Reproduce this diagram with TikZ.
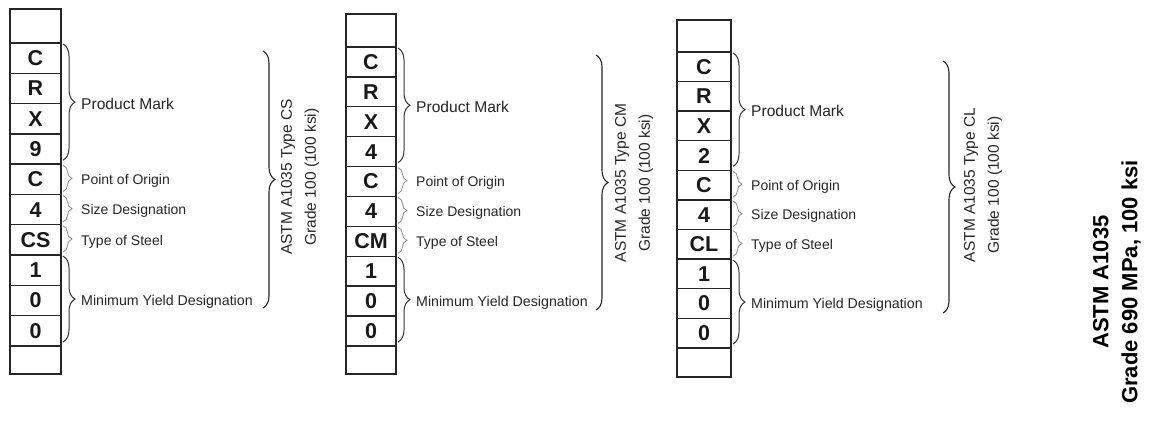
\documentclass[tikz,border=0pt]{standalone}
\usepackage{fontspec}
\setmainfont{Liberation Sans}
\usetikzlibrary{calc,decorations.pathreplacing}
\tikzset{
  cellbox/.style={draw=black!85, line width=1.4pt, inner sep=0pt, outer sep=0pt,
    font=\fontsize{21.5}{21.5}\selectfont\bfseries, text=black!90, anchor=north west},
  bigbrace/.style={decorate, decoration={brace, amplitude=12pt}, line width=1.1pt, draw=black!85},
  midbrace/.style={decorate, decoration={brace, amplitude=12pt}, line width=1pt, draw=black!80},
  smallbrace/.style={decorate, decoration={brace, amplitude=9pt}, line width=0.8pt, draw=black!45},
  lbl/.style={anchor=west, inner sep=0pt, text depth=0pt, font=\fontsize{14.2}{17}\selectfont, text=black!85},
  rot/.style={rotate=90, align=center, inner sep=0pt, font=\fontsize{15.5}{24}\selectfont, text=black!85},
}
% #1 prefix, #2 x, #3 top y, #4 top cell h, #5 cell h, #6 width, #7 digit, #8 type, #9 bottom h
\newcommand{\markcol}[9]{%
  \node[cellbox, minimum width=#6pt, minimum height=#4pt] (#1-0) at (#2,#3) {};
  \foreach \t [count=\i] in {C,R,X,#7,C,4,#8,1,0,0}{
    \node[cellbox, minimum width=#6pt, minimum height=#5pt] (#1-\i) at (#2,{#3+#4+(\i-1)*#5}) {\t};
  }
  \node[cellbox, minimum width=#6pt, minimum height=#9pt] (#1-11) at (#2,{#3+#4+10*#5}) {};
  \draw[midbrace] ($(#1-1.north east)+(2,1)$) -- ($(#1-4.south east)+(2,-4)$);
  \draw[smallbrace] ($(#1-5.north east)+(2,1)$) -- ($(#1-5.south east)+(2,-3)$);
  \draw[smallbrace] ($(#1-6.north east)+(2,1)$) -- ($(#1-6.south east)+(2,-3)$);
  \draw[smallbrace] ($(#1-7.north east)+(2,1)$) -- ($(#1-7.south east)+(2,-3)$);
  \draw[midbrace] ($(#1-8.north east)+(2,1)$) -- ($(#1-10.south east)+(2,-4)$);
  \node[lbl, font=\fontsize{15.6}{18}\selectfont] (#1-pm) at ($(#1-2.south east)+(20,0)$) {Product Mark};
  \node[lbl, font=\fontsize{14}{16}\selectfont] (#1-po) at ($(#1-5.east)+(20,0)$) {Point of Origin};
  \node[lbl, font=\fontsize{14}{16}\selectfont] (#1-sd) at ($(#1-6.east)+(20,0)$) {Size Designation};
  \node[lbl, font=\fontsize{14}{16}\selectfont] (#1-ts) at ($(#1-7.east)+(20,0)$) {Type of Steel};
  \node[lbl] (#1-my) at ($(#1-9.east)+(20,0)$) {Minimum Yield Designation};
}
\begin{document}
\begin{tikzpicture}[x=1pt, y=-1pt]
  \useasboundingbox[fill=white] (0,0) rectangle (1149,435);
  % panel 1
  \markcol{p1}{10}{9}{34}{30.3}{51}{9}{CS}{28}
  \coordinate (p1-bt) at (263,51);
  \coordinate (p1-bb) at (263,308);
  \draw[bigbrace] (p1-bt) -- (p1-bb);
  \node[rot] (p1-txt) at (300,177) {ASTM A1035 Type CS\\Grade 100 (100 ksi)};
  % panel 2
  \markcol{p2}{346}{14}{33}{29.9}{50}{4}{CM}{28}
  \coordinate (p2-bt) at (596,55);
  \coordinate (p2-bb) at (596,310);
  \draw[bigbrace] (p2-bt) -- (p2-bb);
  \node[rot] (p2-txt) at (634,183) {ASTM A1035 Type CM\\Grade 100 (100 ksi)};
  % panel 3
  \markcol{p3}{677}{20}{32}{29.6}{54}{2}{CL}{29}
  \coordinate (p3-bt) at (943,61);
  \coordinate (p3-bb) at (943,313);
  \draw[bigbrace] (p3-bt) -- (p3-bb);
  \node[rot] (p3-txt) at (983,185) {ASTM A1035 Type CL\\Grade 100 (100 ksi)};
  % title
  \node[rot, font=\fontsize{22}{29}\selectfont\bfseries, text=black] (title) at (1117,282)
    {ASTM A1035\\Grade 690 MPa, 100 ksi};
\end{tikzpicture}
\end{document}
